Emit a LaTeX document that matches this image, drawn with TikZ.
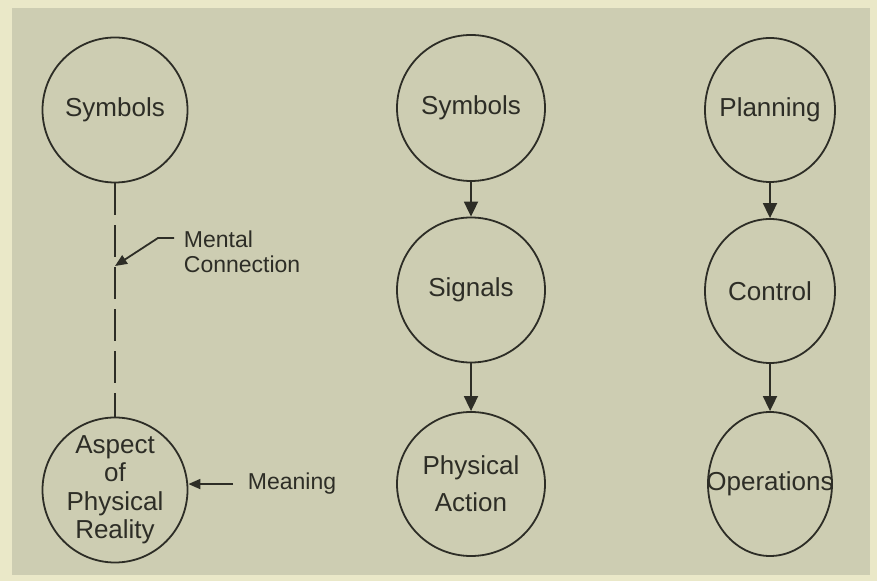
\documentclass[tikz,border=0pt]{standalone}
\usepackage{fontspec}
\setmainfont{Liberation Sans}
\usetikzlibrary{arrows.meta,shapes.geometric}
\definecolor{panel}{RGB}{205,205,178}
\definecolor{margin}{RGB}{234,232,200}
\definecolor{ink}{RGB}{45,45,38}
\tikzset{every path/.style={ink, line width=0.9pt},
  bubble/.style 2 args={draw, ellipse, inner sep=0pt, minimum width=#1, minimum height=#2},
  txt/.style={text=ink, inner sep=0pt, align=center, font=\fontsize{13}{14.25}\selectfont},
  note/.style={text=ink, inner sep=0pt, align=left, font=\fontsize{11.5}{12.5}\selectfont},
  flow/.style={-{Triangle[length=7.5pt,width=7pt]}},
  pointer/.style={-{Triangle[length=6pt,width=5pt]}}}

\begin{document}
\begin{tikzpicture}[x=0.5pt,y=-0.5pt]
  \useasboundingbox (0,0) rectangle (877,581);
  \fill[margin] (0,0) rectangle (877,581);
  \fill[panel] (12,8) rectangle (870,575);
  % left column
  \node[bubble={72.5pt}{72.5pt}, label={[txt]center:Symbols}] (sym1) at (115,110) {};
  \node[bubble={72.5pt}{72.5pt}, label={[txt]center:{Aspect\\of\\Physical\\Reality}}] (asp) at (115,490) {};
  \draw[dash pattern=on 16pt off 5pt] (sym1.south) -- (asp.north);
  \coordinate (mfrom) at (174,238);
  \coordinate (mtip) at (115,266);
  \draw[pointer] (mfrom) -- ++(-16,0) -- (mtip);
  \node[note, anchor=west] (mental) at (183,252) {Mental\\Connection};
  \node[note, anchor=base west] (mean) at (247,490) {Meaning};
  \draw[pointer] ([xshift=-7pt]mean.west) -- (asp.east |- mean.west);
  % middle column
  \node[bubble={74pt}{73pt}, label={[txt]center:Symbols}] (sym2) at (471,108) {};
  \node[bubble={74pt}{72.5pt}, label={[txt]center:Signals}] (sig) at (471,290) {};
  \node[bubble={74pt}{72pt}, label={[txt, font=\fontsize{13}{18.5}\selectfont]center:{Physical\\Action}}] (act) at (471,484) {};
  \draw[flow] (sym2.south) -- (sig.north);
  \draw[flow] (sig.south) -- (act.north);
  % right column
  \node[bubble={65pt}{72pt}, label={[txt]center:Planning}] (plan) at (770,110) {};
  \node[bubble={65pt}{72pt}, label={[txt]center:Control}] (ctrl) at (770,291) {};
  \node[bubble={62pt}{72pt}, label={[txt]center:Operations}] (ops) at (770,484) {};
  \draw[flow] (plan.south) -- (ctrl.north);
  \draw[flow] (ctrl.south) -- (ops.north);
\end{tikzpicture}
\end{document}
